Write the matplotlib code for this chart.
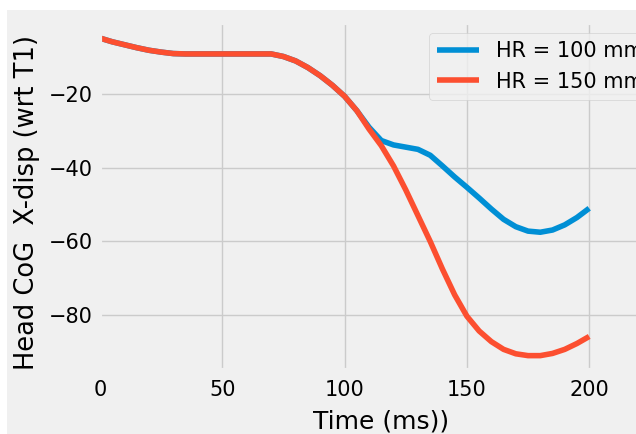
import matplotlib
matplotlib.use("Agg")
import matplotlib.pyplot as plt
from matplotlib.patches import Rectangle

plt.style.use("fivethirtyeight")

time_ms = [0, 5, 10, 15, 20, 25, 30, 35, 40, 45, 50, 55, 60, 65, 70, 75, 80, 85,
           90, 95, 100, 105, 110, 115, 120, 125, 130, 135, 140, 145, 150, 155,
           160, 165, 170, 175, 180, 185, 190, 195, 200]

shared = [-4.8, -5.8, -6.6, -7.4, -8.1, -8.6, -9.0, -9.1, -9.1, -9.1, -9.1,
          -9.1, -9.1, -9.1, -9.1, -9.8, -11.0, -12.8, -15.0, -17.6, -20.6, -24.5]

hr100 = shared + [-29.0, -32.6, -33.8, -34.4, -35.0, -36.6, -39.5, -42.5, -45.3,
                  -48.2, -51.2, -54.0, -56.0, -57.2, -57.5, -56.9, -55.5, -53.5, -51.0]
hr150 = shared + [-29.5, -34.0, -39.5, -46.0, -53.0, -60.0, -67.5, -74.5, -80.3,
                  -84.3, -87.2, -89.3, -90.5, -91.0, -91.0, -90.4, -89.3, -87.7, -85.8]

labels = ["HR = 100 mm", "HR = 150 mm"]
xticks = [0, 50, 100, 150, 200]
yticks = [-20, -40, -60, -80]

W, H = 636, 434
fig = plt.figure(figsize=(W / 100, H / 100), dpi=100)
fig.patch.set_facecolor("white")
fig.patches.append(Rectangle((7 / W, 0), 1, (H - 10) / H, transform=fig.transFigure,
                             facecolor="#f0f0f0", edgecolor="none", zorder=-10))

# axes extends past the right edge (reference is a cropped figure)
ax_left, ax_right, ax_top, ax_bottom = 100, 662, 23, 370
aw, ah = ax_right - ax_left, ax_bottom - ax_top
ax = fig.add_axes([ax_left / W, (H - ax_bottom) / H, aw / W, ah / H])
ax.plot(time_ms, hr100, color="#008fd5", lw=4, label=labels[0])
ax.plot(time_ms, hr150, color="#fc4f30", lw=4, label=labels[1])
ax.set_xlim(0, aw / 2.446)
ax.set_ylim(-94.9, -0.7)
ax.set_xticks(xticks)
ax.set_yticks(yticks)
ax.tick_params(axis="y", labelsize=15, pad=5)
ax.tick_params(axis="x", labelsize=15, pad=7)
ax.set_xlabel("Time (ms))", fontsize=18, labelpad=7)
ax.set_ylabel("Head CoG  X-disp (wrt T1)", fontsize=18.5)
ax.yaxis.set_label_coords((40 - ax_left) / aw, (ax_bottom - 202) / ah)
ax.legend(loc="upper left", bbox_to_anchor=(429 / W, (H - 33) / H),
          bbox_transform=fig.transFigure, fontsize=15, borderaxespad=0)

fig.savefig("out.png", dpi=100, facecolor=fig.get_facecolor())
